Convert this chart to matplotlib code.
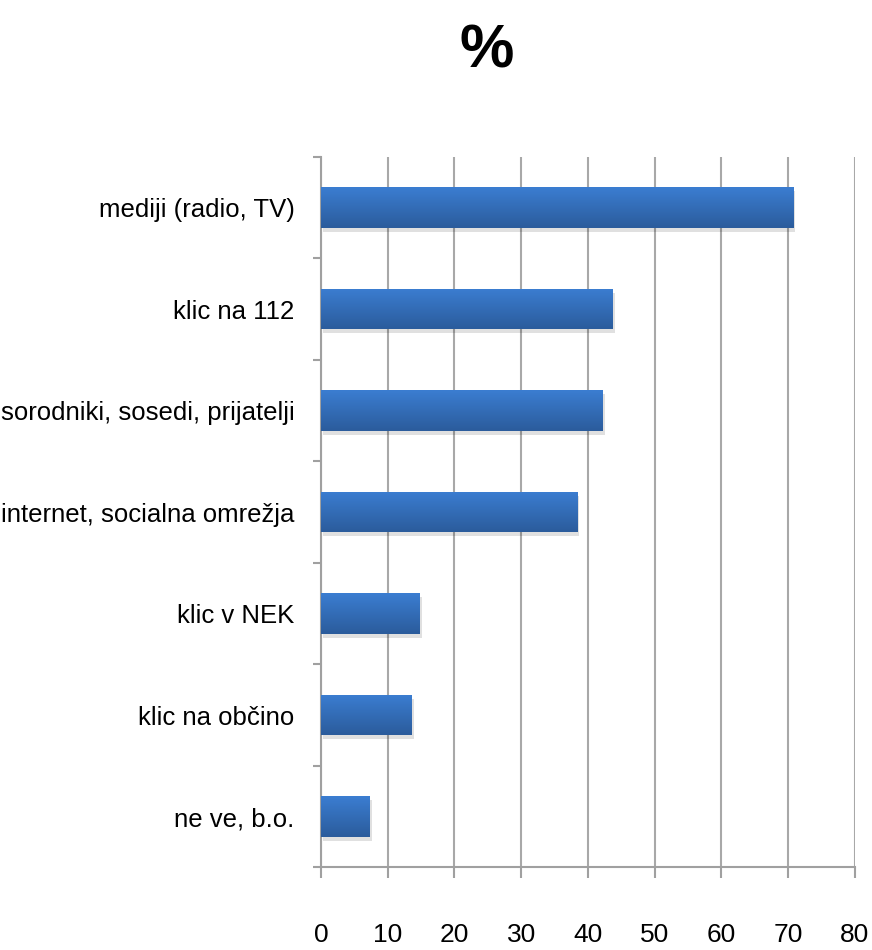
import numpy as np
import matplotlib
matplotlib.use('Agg')
import matplotlib.pyplot as plt
from matplotlib.ticker import FixedLocator

categories = ['mediji (radio, TV)', 'klic na 112', 'sorodniki, sosedi, prijatelji',
              'internet, socialna omrežja', 'klic v NEK', 'klic na občino', 'ne ve, b.o.']
values = [70.7, 43.7, 42.2, 38.4, 14.8, 13.6, 7.3]
xticks = [0, 10, 20, 30, 40, 50, 60, 70, 80]

plt.rcParams['font.family'] = ['Liberation Sans', 'DejaVu Sans']

fig = plt.figure(figsize=(8.72, 9.5), dpi=100)
ax = fig.add_axes([0.368, 0.087, 0.6125, 0.748])

n = len(categories)
y = np.arange(n)[::-1]
bh = 0.4

# shadow
ax.barh(y - 0.04, values, height=bh, left=0.3, color='#000000', alpha=0.12, zorder=2)
bars = ax.barh(y, values, height=bh, color='#3470bd', zorder=3)

# vertical gradient inside each bar
grad = np.linspace(0, 1, 64).reshape(-1, 1)
cmap = matplotlib.colors.LinearSegmentedColormap.from_list('g', ['#2b5c9c', '#3b7dd1'])
for b in bars:
    x0, y0 = b.get_x(), b.get_y()
    im = ax.imshow(grad, cmap=cmap, aspect='auto', origin='lower',
                   extent=[x0, x0 + b.get_width(), y0, y0 + b.get_height()], zorder=4)
    im.set_clip_path(b)

ax.set_xlim(0, 80)
ax.set_ylim(-0.5, n - 0.5)
ax.set_aspect('auto')

ax.set_xticks(xticks)
ax.set_xticklabels([str(t) for t in xticks], fontsize=19)
ax.set_yticks(y)
ax.set_yticklabels(categories, fontsize=18.5)
ax.yaxis.set_minor_locator(FixedLocator(np.arange(n + 1) - 0.5))
ax.tick_params(axis='y', which='major', length=0, pad=19)
ax.tick_params(axis='y', which='minor', length=6, color='#a0a0a0', width=1.5)
ax.tick_params(axis='x', length=8, color='#a0a0a0', width=1.5, pad=32)

ax.grid(axis='x', color='#a8a8a8', linewidth=1.5, zorder=0)
ax.set_axisbelow(True)
for s in ['top', 'right']:
    ax.spines[s].set_visible(False)
for s in ['left', 'bottom']:
    ax.spines[s].set_color('#a0a0a0')
    ax.spines[s].set_linewidth(1.5)

fig.text(0.558, 0.945, '%', fontsize=44, fontweight='bold', ha='center', va='center')

fig.savefig('out.png', dpi=100)
